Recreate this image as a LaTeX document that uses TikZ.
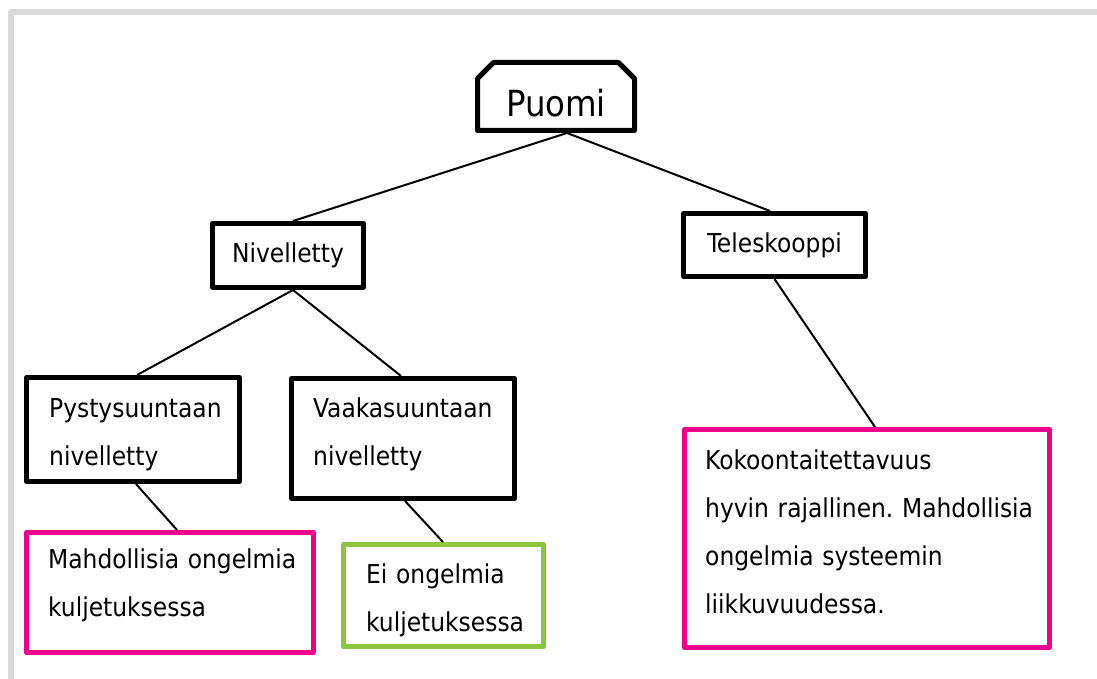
\documentclass[tikz,border=0pt]{standalone}
\usepackage{fontspec}
\setmainfont{DejaVu Sans Condensed}
\frenchspacing
\usetikzlibrary{shapes.misc}
\definecolor{bordergray}{HTML}{D9D9D9}
\definecolor{pinkline}{HTML}{EC008C}
\definecolor{greenline}{HTML}{8CC63F}
\begin{document}
\begin{tikzpicture}[x=1pt,y=-1pt,
  box/.style={rectangle, draw=black, line width=5pt, line join=round, inner sep=0pt},
  pinkbox/.style={rectangle, draw=pinkline, line width=5pt, line join=round, inner sep=0pt},
  greenbox/.style={rectangle, draw=greenline, line width=5pt, line join=round, inner sep=0pt},
  txt/.style={anchor=base west, inner sep=0pt, align=left, text width=400pt,
              font=\fontsize{26}{48}\selectfont},
  conn/.style={draw=black, line width=2pt}]
\useasboundingbox (0,0) rectangle (1097,679);
% page frame
\draw[bordergray, line width=6pt, line join=round] (11,679) -- (11,12) -- (1097,12);
% nodes
\node[chamfered rectangle, chamfered rectangle corners={north west, north east},
      chamfered rectangle xsep=8pt, chamfered rectangle ysep=8pt,
      draw=black, line width=5pt, line join=round, inner sep=0pt,
      minimum width=157pt, minimum height=68pt,
      text height=41pt, text depth=0pt, font=\fontsize{36}{40}\selectfont]
  (puomi) at (556,96.5) {Puomi};
\node[box, minimum width=151pt, minimum height=64pt, text height=19pt, text depth=6pt,
      font=\fontsize{26}{30}\selectfont] (niv) at (288,255.5) {Nivelletty};
\node[box, minimum width=182pt, minimum height=63pt, text height=19pt, text depth=5pt,
      font=\fontsize{26}{30}\selectfont] (tele) at (774.5,245) {Teleskooppi};
\node[box, minimum width=213pt, minimum height=104pt] (pys) at (133,429.5) {};
\node[box, minimum width=223pt, minimum height=120pt] (vaa) at (403,438.5) {};
\node[pinkbox, minimum width=287pt, minimum height=120pt] (mah) at (170,592.5) {};
\node[greenbox, minimum width=200pt, minimum height=102pt] (ei) at (443.5,595.5) {};
\node[pinkbox, minimum width=365pt, minimum height=218pt] (kok) at (867,538.5) {};
% texts
\node[txt] (pystxt) at (49,417) {Pystysuuntaan\\nivelletty};
\node[txt] (vaatxt) at (313,417) {Vaakasuuntaan\\nivelletty};
\node[txt] (mahtxt) at (48,568) {Mahdollisia ongelmia\\kuljetuksessa};
\node[txt] (eitxt) at (366,583) {Ei ongelmia\\kuljetuksessa};
\node[txt] (koktxt) at (705,469) {Kokoontaitettavuus\\hyvin rajallinen. Mahdollisia\\ongelmia systeemin\\liikkuvuudessa.};
% connectors
\draw[conn] ([xshift=11pt]puomi.south) -- ([xshift=5pt]niv.north);
\draw[conn] ([xshift=11pt]puomi.south) -- ([xshift=-4.5pt]tele.north);
\draw[conn] ([xshift=5pt]niv.south) -- ([xshift=4pt]pys.north);
\draw[conn] ([xshift=5pt]niv.south) -- ([xshift=-2pt]vaa.north);
\draw[conn] (tele.south) -- ([xshift=8pt]kok.north);
\draw[conn] ([xshift=3pt]pys.south) -- ([xshift=7pt]mah.north);
\draw[conn] ([xshift=2pt]vaa.south) -- ([xshift=-0.5pt]ei.north);
\end{tikzpicture}
\end{document}
